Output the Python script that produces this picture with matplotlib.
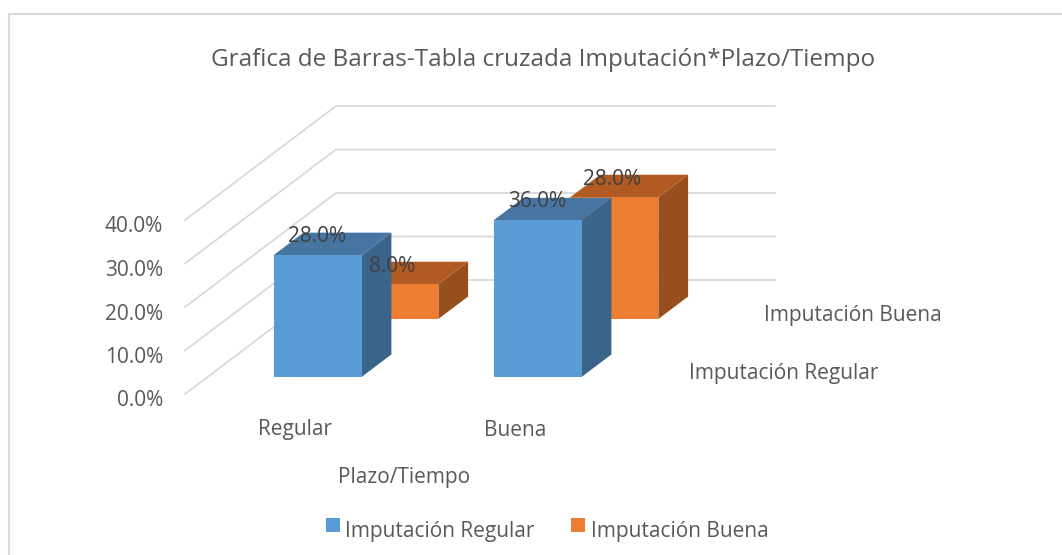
import matplotlib
matplotlib.use('Agg')
import matplotlib.pyplot as plt
from matplotlib.patches import Polygon, Rectangle

plt.rcParams['font.family'] = ['Open Sans', 'DejaVu Sans']

# Data
categories = ['Regular', 'Buena']
series_names = ['Imputación Regular', 'Imputación Buena']
regular_vals = [28.0, 36.0]
buena_vals = [8.0, 28.0]
y_ticks = [0, 10, 20, 30, 40]

# Colours: front, side, top
blue = ('#5B9BD5', '#3A6489', '#4675A2')
orange = ('#ED7D31', '#97501D', '#B15A21')
grid_col = '#D9D9D9'
text_col = '#595959'
label_fs = 15

# Fake 3D projection in pixels
x0, y0 = 185, 394       # front left corner at 0%
depth_dx, depth_dy = 151, 114
per_unit = 4.35         # pixels for 1%
right_x = 775
bar_w, bar_d = 88, 0.197
cat_x = [251, 471]


def proj(x, depth, val):
    return x + depth * depth_dx, y0 - depth * depth_dy - val * per_unit


def draw_bar(ax, x, depth, val, cols):
    fl = proj(x, depth, 0)
    fr = proj(x + bar_w, depth, 0)
    ftl = proj(x, depth, val)
    ftr = proj(x + bar_w, depth, val)
    bl = proj(x, depth + bar_d, val)
    br = proj(x + bar_w, depth + bar_d, val)
    bbr = proj(x + bar_w, depth + bar_d, 0)
    ax.add_patch(Polygon([fr, bbr, br, ftr], fc=cols[1], ec='none', zorder=3))
    ax.add_patch(Polygon([ftl, bl, br, ftr], fc=cols[2], ec='none', zorder=3))
    ax.add_patch(Polygon([fl, fr, ftr, ftl], fc=cols[0], ec='none', zorder=3))


fig = plt.figure(figsize=(10.62, 5.55), dpi=100)
ax = fig.add_axes([0, 0, 1, 1])
ax.set_xlim(0, 1062)
ax.set_ylim(555, 0)
ax.axis('off')

# chart border, it runs off the picture on the right and at the bottom
ax.plot([9, 9, 1062], [555, 14, 14], color='#D9D9D9', lw=1.5)

ax.text(543, 60, 'Grafica de Barras-Tabla cruzada Imputación*Plazo/Tiempo',
        ha='center', va='center', fontsize=17.5, color=text_col)

# Grid walls and y ticks
for t in y_ticks:
    front = proj(x0, 0, t)
    back = proj(x0, 1, t)
    ax.plot([front[0], back[0], right_x], [front[1], back[1], back[1]], color=grid_col, lw=1.3, zorder=1)
    ax.text(163, front[1] + 7, '%.1f%%' % t, ha='right', va='center', fontsize=label_fs, color=text_col)

# Bars, back row first
for x, v in zip(cat_x, buena_vals):
    draw_bar(ax, x, 0.658, v, orange)
for x, v in zip(cat_x, regular_vals):
    draw_bar(ax, x, 0.15, v, blue)

# Value labels
for x, v in zip(cat_x, regular_vals):
    px, py = proj(x + bar_w / 2, 0.15, v)
    ax.text(px - 1, py - 19, '%.1f%%' % v, ha='center', va='center', fontsize=label_fs,
            color='#404040', zorder=5)
for x, v in zip(cat_x, buena_vals):
    px, py = proj(x + bar_w / 2, 0.658, v)
    ax.text(px - 2, py - 18, '%.1f%%' % v, ha='center', va='center', fontsize=label_fs,
            color='#404040', zorder=5)

# Category and series labels
for x, c in zip(cat_x, categories):
    ax.text(x + 44, 430, c, ha='center', va='center', fontsize=label_fs, color=text_col)
ax.text(404, 478, 'Plazo/Tiempo', ha='center', va='center', fontsize=label_fs, color=text_col)
ax.text(784, 373, series_names[0], ha='center', va='center', fontsize=label_fs, color=text_col)
ax.text(853, 316, series_names[1], ha='center', va='center', fontsize=label_fs, color=text_col)

# Legend
ax.add_patch(Rectangle((326, 518), 14, 14, fc=blue[0], ec='none'))
ax.text(345, 532, series_names[0], ha='left', va='center', fontsize=label_fs, color=text_col)
ax.add_patch(Rectangle((571, 518), 14, 14, fc=orange[0], ec='none'))
ax.text(591, 532, series_names[1], ha='left', va='center', fontsize=label_fs, color=text_col)

fig.savefig('out.png', dpi=100)
